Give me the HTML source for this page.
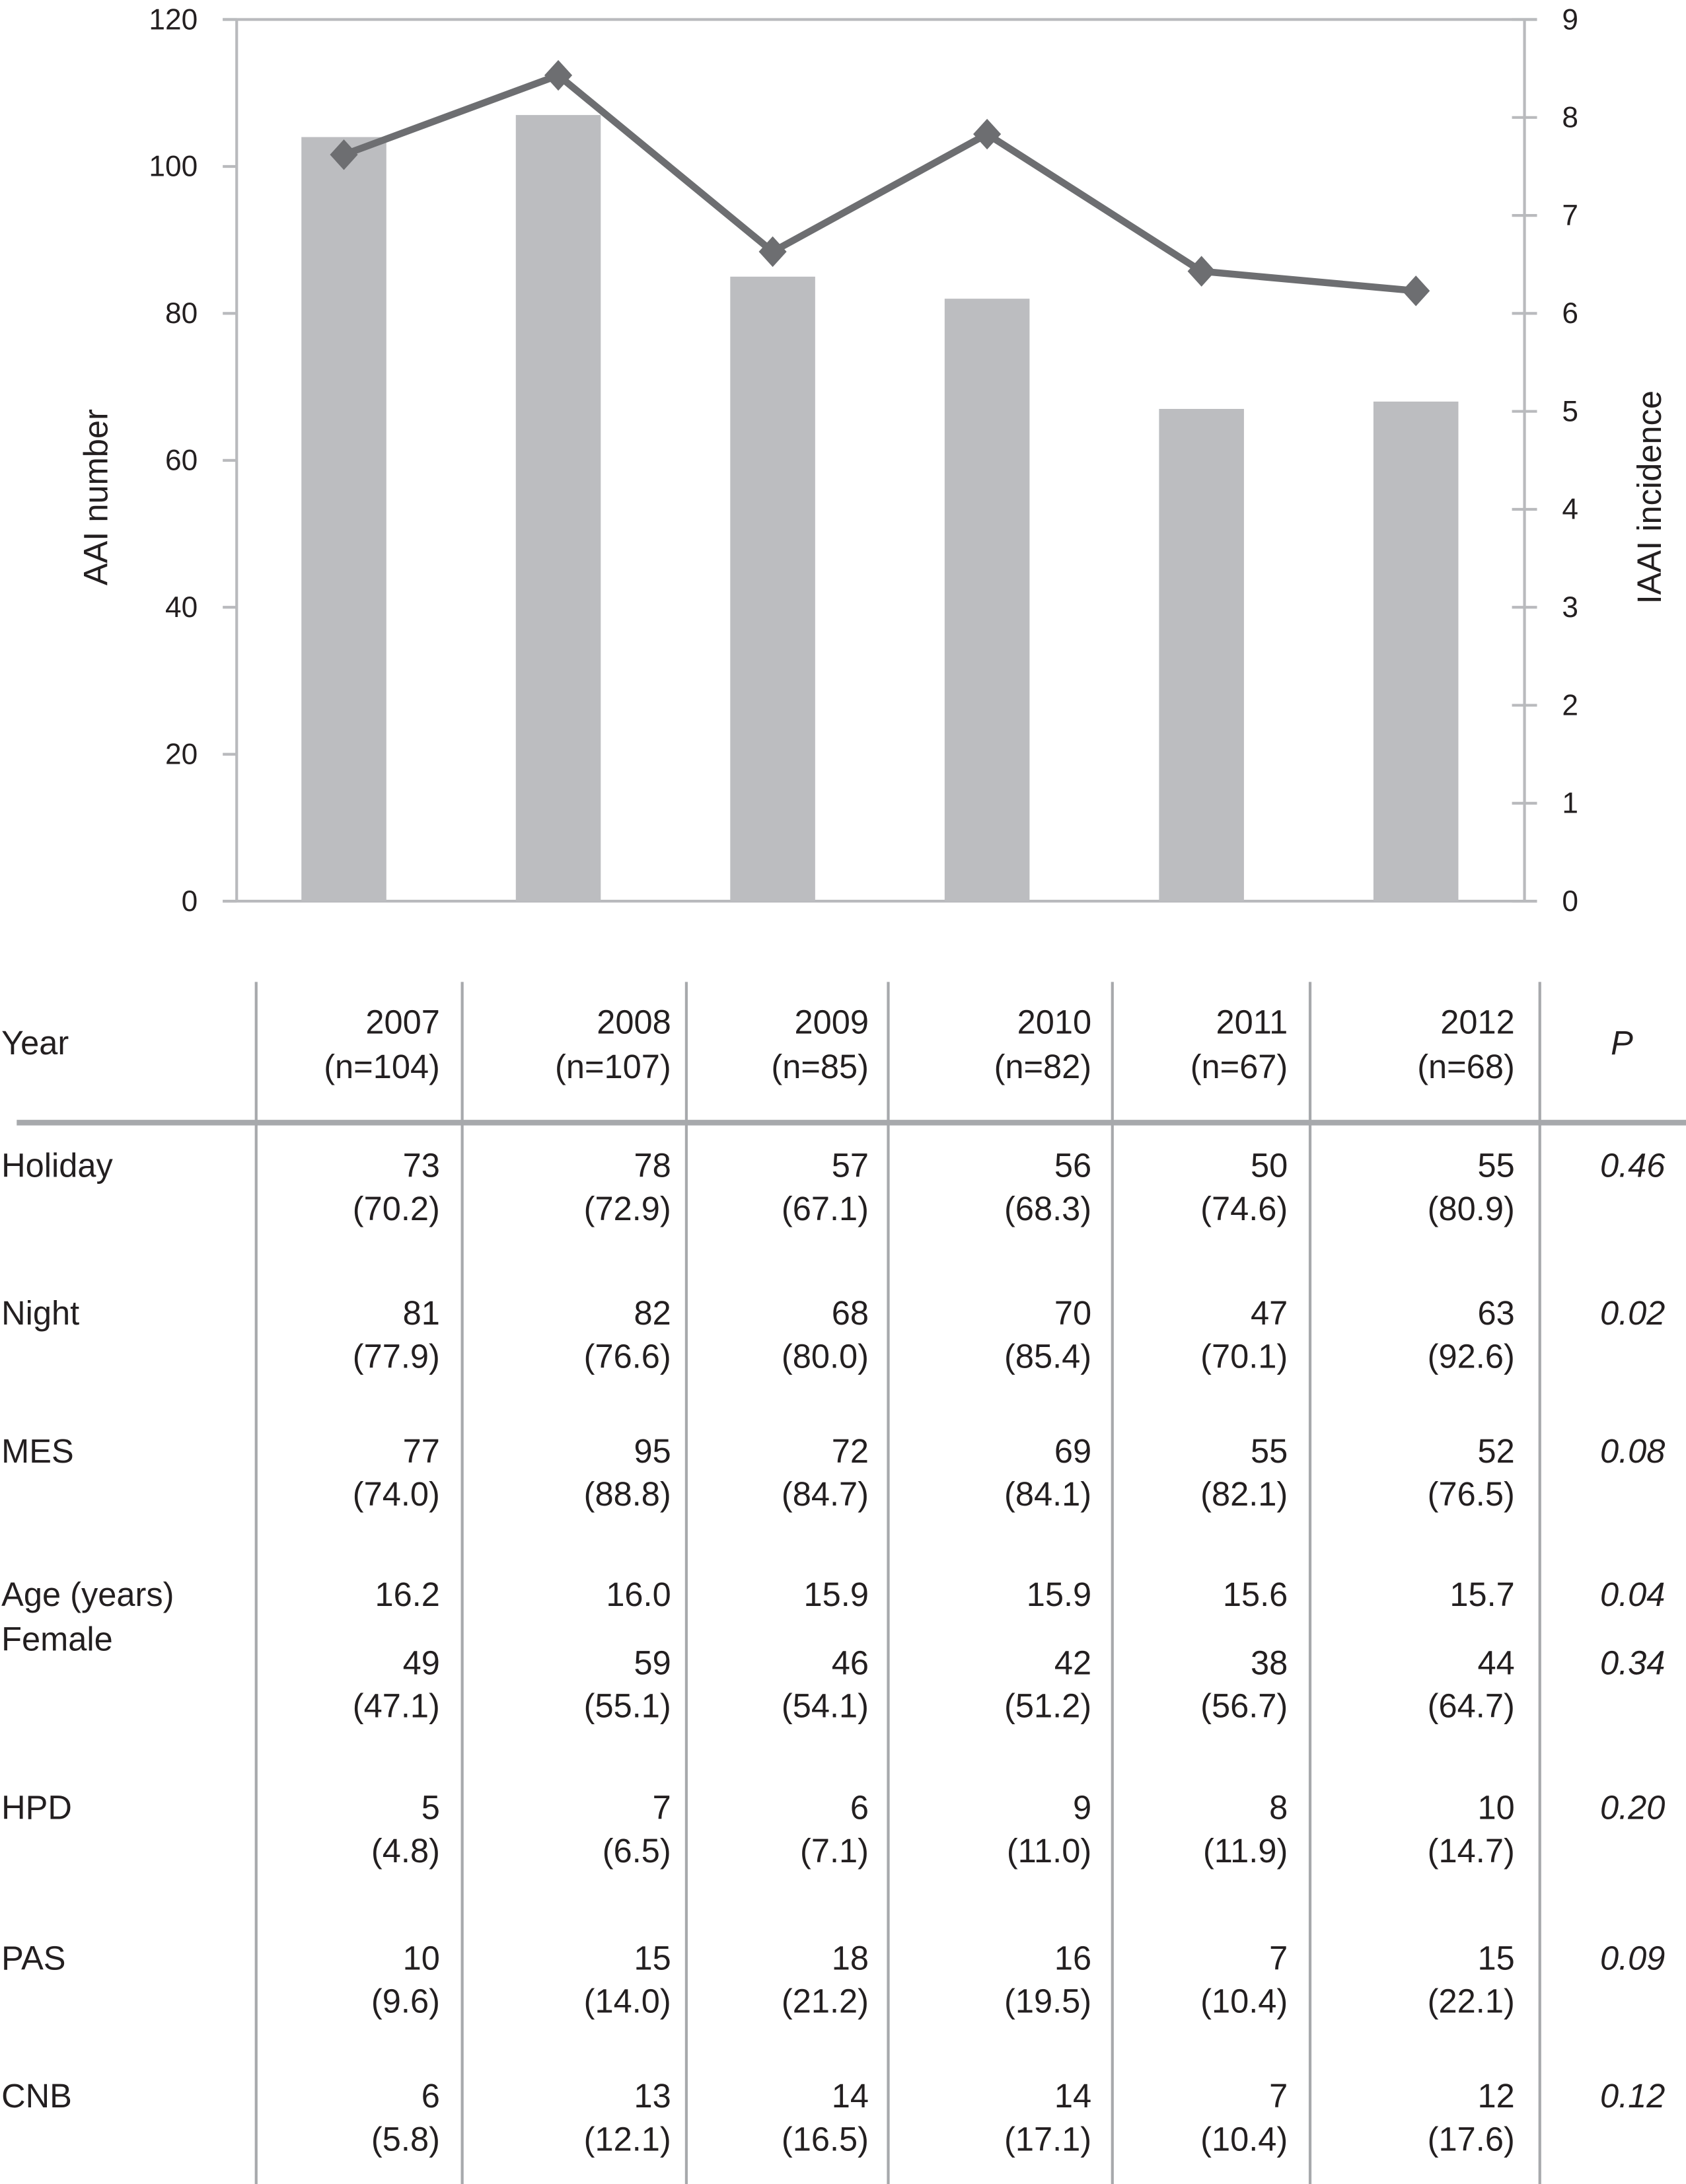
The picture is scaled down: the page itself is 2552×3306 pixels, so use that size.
<!DOCTYPE html>
<html><head><meta charset="utf-8"><style>
html,body{margin:0;padding:0;background:#fff;}
svg{display:block;}
text{font-family:"Liberation Sans Narrow","Liberation Sans",sans-serif;fill:#231f20;}
</style></head><body>
<svg id="fig" width="2552" height="3306" viewBox="0 0 1211 1568" preserveAspectRatio="none" xmlns="http://www.w3.org/2000/svg">
<g id="chart"></g>
<g id="table"></g>
</svg>
<script>
const years = ["2007","2008","2009","2010","2011","2012"];
const aaiNumber = [104,107,85,82,67,68];
const incidence = [7.62,8.43,6.63,7.83,6.43,6.23];
const leftTicks = [0,20,40,60,80,100,120];
const rightTicks = [0,1,2,3,4,5,6,7,8,9];
const nLabels = ["(n=104)","(n=107)","(n=85)","(n=82)","(n=67)","(n=68)"];
const rowLabels = ["Holiday","Night","MES","Age (years)","Female","HPD","PAS","CNB"];
const rowCounts = [
 ["73","78","57","56","50","55"],
 ["81","82","68","70","47","63"],
 ["77","95","72","69","55","52"],
 ["16.2","16.0","15.9","15.9","15.6","15.7"],
 ["49","59","46","42","38","44"],
 ["5","7","6","9","8","10"],
 ["10","15","18","16","7","15"],
 ["6","13","14","14","7","12"]];
const rowPct = [
 ["(70.2)","(72.9)","(67.1)","(68.3)","(74.6)","(80.9)"],
 ["(77.9)","(76.6)","(80.0)","(85.4)","(70.1)","(92.6)"],
 ["(74.0)","(88.8)","(84.7)","(84.1)","(82.1)","(76.5)"],
 null,
 ["(47.1)","(55.1)","(54.1)","(51.2)","(56.7)","(64.7)"],
 ["(4.8)","(6.5)","(7.1)","(11.0)","(11.9)","(14.7)"],
 ["(9.6)","(14.0)","(21.2)","(19.5)","(10.4)","(22.1)"],
 ["(5.8)","(12.1)","(16.5)","(17.1)","(10.4)","(17.6)"]];
const pValues = ["0.46","0.02","0.08","0.04","0.34","0.20","0.09","0.12"];

const NS="http://www.w3.org/2000/svg";
function mk(parent,tag,attrs,txt){const e=document.createElementNS(NS,tag);for(const k in attrs)e.setAttribute(k,attrs[k]);if(txt!==undefined)e.textContent=txt;parent.appendChild(e);return e;}
const chart=document.getElementById('chart');
const X0=170,X1=1095,Y0=647,Y1=14;
const yL=v=>Y0-(v/120)*(Y0-Y1);
const yR=v=>Y0-(v/9)*(Y0-Y1);
const xC=i=>247+i*154;
const GRID="#b9babd";
let a=mk(chart,'line',{x1:X0,y1:Y1,x2:X0,y2:Y0,stroke:GRID,'stroke-width':2});


a=mk(chart,'line',{x1:X1,y1:Y1,x2:X1,y2:Y0,stroke:GRID,'stroke-width':2});


a=mk(chart,'line',{x1:160,y1:Y1,x2:1104,y2:Y1,stroke:GRID,'stroke-width':2});


a=mk(chart,'line',{x1:160,y1:Y0,x2:1104,y2:Y0,stroke:GRID,'stroke-width':2});


leftTicks.forEach(v=>{
 const y=yL(v);
 const t=mk(chart,'line',{x1:160,y1:y,x2:X0,y2:y,stroke:GRID,'stroke-width':2});
 
 
 const l=mk(chart,'text',{x:142,y:y+7,'text-anchor':'end','font-size':21},String(v));
 
 
});
rightTicks.forEach(v=>{
 const y=yR(v);
 const t=mk(chart,'line',{x1:1086,y1:y,x2:1104,y2:y,stroke:GRID,'stroke-width':2});
 
 
 const l=mk(chart,'text',{x:1122,y:y+7,'text-anchor':'start','font-size':21},String(v));
 
 
});
let tt=mk(chart,'text',{x:0,y:0,'text-anchor':'middle','font-size':24,transform:'translate(77,357) rotate(-90)',style:'font-family:"Liberation Sans",sans-serif'},'AAI number');


tt=mk(chart,'text',{x:0,y:0,'text-anchor':'middle','font-size':24,transform:'translate(1193,357) rotate(-90)',style:'font-family:"Liberation Sans",sans-serif'},'IAAI incidence');


aaiNumber.forEach((v,i)=>{
 const b=mk(chart,'rect',{x:xC(i)-30.5,y:yL(v),width:61,height:Y0-yL(v),fill:'#bcbdc0'});
 
 
});
const pts=incidence.map((v,i)=>xC(i)+','+yR(v)).join(' ');
const pl=mk(chart,'polyline',{points:pts,fill:'none',stroke:'#6d6e71','stroke-width':5,'stroke-linejoin':'round'});


incidence.forEach((v,i)=>{
 const x=xC(i),y=yR(v);
 const d=mk(chart,'polygon',{points:`${x},${y-11} ${x+10},${y} ${x},${y+11} ${x-10},${y}`,fill:'#6d6e71'});
 
 
});
const tbl=document.getElementById('table');
const vlines=[184,332,493,638,799,941,1106];
const colRight=[316,482,624,784,925,1088];
vlines.forEach(x=>{
 const l=mk(tbl,'line',{x1:x,y1:705,x2:x,y2:1568,stroke:'#a7a9ac','stroke-width':2});
 
 
});
const hl=mk(tbl,'line',{x1:12,y1:806,x2:1211,y2:806,stroke:'#a7a9ac','stroke-width':4});


const FS=24;
let h=mk(tbl,'text',{x:1,y:757,'font-size':FS},'Year');


h=mk(tbl,'text',{x:1165,y:757,'font-size':FS,'font-style':'italic','text-anchor':'middle'},'P');


years.forEach((y,i)=>{
 let t=mk(tbl,'text',{x:colRight[i],y:742,'font-size':FS,'text-anchor':'end'},y);
 
 
 t=mk(tbl,'text',{x:colRight[i],y:774,'font-size':FS,'text-anchor':'end'},nLabels[i]);
 
 
});
const labelY=[845,951,1050,1153,1185,1306,1414,1513];
const valY=[845,951,1050,1153,1202,1306,1414,1513];
rowLabels.forEach((lab,r)=>{
 let t=mk(tbl,'text',{x:1,y:labelY[r],'font-size':FS},lab);
 
 
 rowCounts[r].forEach((c,i)=>{
  const v=mk(tbl,'text',{x:colRight[i],y:valY[r],'font-size':FS,'text-anchor':'end'},c);
  
  
  if(rowPct[r]){
   const p=mk(tbl,'text',{x:colRight[i],y:valY[r]+31,'font-size':FS,'text-anchor':'end'},rowPct[r][i]);
   
   
  }
 });
 const pv=mk(tbl,'text',{x:1196,y:valY[r],'font-size':FS,'text-anchor':'end','font-style':'italic'},pValues[r]);
 
 
});
</script>
</body></html>
